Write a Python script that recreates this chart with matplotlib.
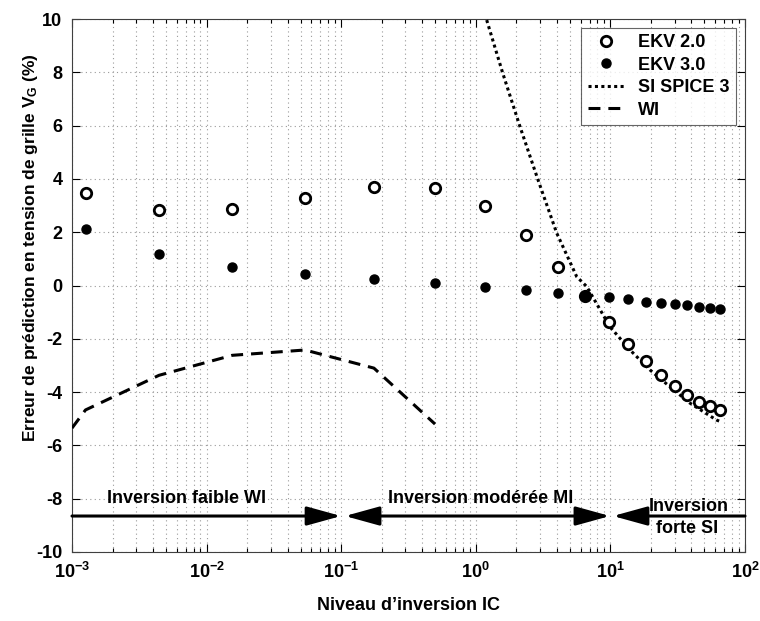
import matplotlib
matplotlib.use("Agg")
import matplotlib.pyplot as plt
from matplotlib.patches import FancyArrowPatch
from matplotlib import font_manager
import matplotlib.ticker as mticker

names = {f.name for f in font_manager.fontManager.ttflist}
FONT = "Liberation Sans Narrow" if "Liberation Sans Narrow" in names else "Liberation Sans"
plt.rcParams["font.family"] = [FONT, "DejaVu Sans"]
plt.rcParams["font.weight"] = "bold"
plt.rcParams["axes.unicode_minus"] = False
plt.rcParams["mathtext.fontset"] = "custom"
plt.rcParams["mathtext.rm"] = FONT + ":bold"
plt.rcParams["mathtext.bf"] = FONT + ":bold"
plt.rcParams["mathtext.it"] = FONT + ":bold"
plt.rcParams["mathtext.default"] = "bf"

# ---- data ----
ic_ekv = [0.00126, 0.00443, 0.0155, 0.0538, 0.175, 0.498, 1.17, 2.36, 4.08,
          6.47, 9.77, 13.6, 18.4, 23.6, 30.2, 37.3, 45.5, 54.5, 64.9]
ekv2 = [3.46, 2.83, 2.88, 3.30, 3.71, 3.67, 2.98, 1.89, 0.69,
        -0.40, -1.38, -2.20, -2.82, -3.37, -3.77, -4.11, -4.36, -4.52, -4.67]
ekv3 = [2.11, 1.18, 0.71, 0.43, 0.24, 0.08, -0.04, -0.17, -0.27,
        -0.39, -0.44, -0.52, -0.61, -0.67, -0.71, -0.74, -0.79, -0.83, -0.88]
ic_si = [1.205, 1.585, 2.13, 2.90, 3.99, 5.62, 6.67, 9.93, 14.0, 19.7, 27.7, 38.9, 61.5, 65.2]
si = [9.96, 7.97, 5.96, 3.96, 1.97, 0.33, -0.04, -1.55, -2.42, -3.17, -3.80, -4.41, -5.05, -5.10]
ic_wi = [0.001, 0.00126, 0.00443, 0.0155, 0.0538, 0.175, 0.498]
wi = [-5.35, -4.67, -3.37, -2.62, -2.42, -3.10, -5.20]

regions = ["Inversion faible WI", "Inversion modérée MI", "Inversion", "forte SI"]
region_x = [0.00703, 1.09, 38.4, 37.0]
region_y = [-8.0, -8.0, -8.3, -9.1]
arrow_y = -8.65
arrow_spans = [(0.001, 0.0998, "->"), (0.1067, 9.93, "<->"), (10.45, 100.0, "<-")]

fig = plt.figure(figsize=(7.6, 6.21), dpi=100)
ax = fig.add_axes([72 / 760, 1 - 552 / 621, (745 - 72) / 760, (552 - 19) / 621])
ax.set_xscale("log")
ax.set_xlim(1e-3, 1e2)
ax.set_ylim(-10, 10)

ax.plot(ic_ekv, ekv2, linestyle="none", marker="o", markersize=7.5, markerfacecolor="white",
        markeredgecolor="black", markeredgewidth=2.0, label="EKV 2.0", zorder=4)
ax.plot(ic_ekv, ekv3, linestyle="none", marker="o", markersize=6.5, markerfacecolor="black",
        markeredgecolor="black", label="EKV 3.0", zorder=5)
ax.plot(ic_si, si, color="black", linewidth=2.2, linestyle=(0, (1, 1.1)), label="SI SPICE 3", zorder=3)
ax.plot(ic_wi, wi, color="black", linewidth=2.2, linestyle=(0, (3.9, 2.6)), label="WI", zorder=3)

# arrows
for x0, x1, style in arrow_spans:
    if style == "->":
        a, b, st = (x0, arrow_y), (x1, arrow_y), "-|>"
    elif style == "<-":
        a, b, st = (x1, arrow_y), (x0, arrow_y), "-|>"
    else:
        a, b, st = (x0, arrow_y), (x1, arrow_y), "<|-|>"
    arr = FancyArrowPatch(a, b, arrowstyle=st + ",head_length=21,head_width=5.8",
                          mutation_scale=1, linewidth=2.2, color="black",
                          shrinkA=0, shrinkB=0, zorder=6, clip_on=False)
    ax.add_patch(arr)

for t, x, y in zip(regions, region_x, region_y):
    ax.text(x, y, t, ha="center", va="center", fontsize=13, fontweight="bold", zorder=7)

# grid and ticks
ax.xaxis.set_major_locator(mticker.LogLocator(base=10, numticks=10))
ax.xaxis.set_minor_locator(mticker.LogLocator(base=10, subs=range(2, 10), numticks=10))
ax.xaxis.set_minor_formatter(mticker.NullFormatter())
ax.set_yticks(range(-10, 11, 2))
ax.grid(True, which="major", axis="both", color="#9a9a9a", linestyle=(0, (1, 3)), linewidth=0.8)
ax.grid(True, which="minor", axis="x", color="#9a9a9a", linestyle=(0, (1, 3)), linewidth=0.8)
ax.tick_params(which="both", direction="in", top=True, right=True, labelsize=13, width=0.8)
ax.tick_params(which="major", length=6, pad=7)
ax.tick_params(which="minor", length=3)
for lab in ax.get_xticklabels() + ax.get_yticklabels():
    lab.set_fontweight("bold")
for s in ax.spines.values():
    s.set_linewidth(0.8)
    s.set_color("#404040")

ax.set_xlabel("Niveau d\u2019inversion IC", fontsize=13, fontweight="bold")
ax.xaxis.set_label_coords(0.5, -(605 - 552) / 533, transform=ax.transAxes)
ax.set_ylabel("Erreur de prédiction en tension de grille V$_{G}$ (%)", fontsize=12.5,
              fontweight="bold")
ax.yaxis.set_label_coords(-(72 - 31) / 673, (552 - 248) / 533, transform=ax.transAxes)
ax.xaxis.label.set_va("center")
ax.yaxis.label.set_va("center")

leg = ax.legend(loc="upper right", fontsize=13, frameon=True, fancybox=False,
                edgecolor="#404040", handlelength=2.0, borderaxespad=0.5,
                labelspacing=0.3, borderpad=0.35)
leg.get_frame().set_linewidth(0.8)
for t in leg.get_texts():
    t.set_fontweight("bold")

fig.savefig("out.png", dpi=100)
